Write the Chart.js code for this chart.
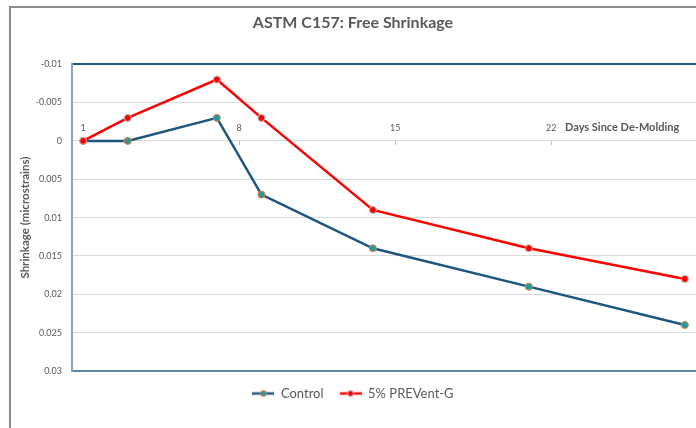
<!DOCTYPE html>
<html>
<head>
<meta charset="utf-8">
<script src="https://cdn.jsdelivr.net/npm/chart.js@4.4.1/dist/chart.umd.min.js"></script>
<style>
  html, body { margin: 0; padding: 0; background: #fff; }
  #wrap { width: 696px; height: 428px; }
</style>
</head>
<body>
<div id="wrap"><canvas id="chart"></canvas></div>
<script>
const days = [1, 3, 7, 9, 14, 21, 28];
const control = [0, 0, -0.003, 0.007, 0.014, 0.019, 0.024];
const prevent = [0, -0.003, -0.008, -0.003, 0.009, 0.014, 0.018];
const dayTicks = [1, 8, 15, 22];
const seriesNames = ["Control", "5% PREVent-G"];

const textGray = "#595959";
const font = "Lato, 'Open Sans', sans-serif";

function legendIcon(lineColor, fill, border) {
  const c = document.createElement("canvas");
  c.width = 22;
  c.height = 10;
  const g = c.getContext("2d");
  g.strokeStyle = lineColor;
  g.lineWidth = 2.5;
  g.beginPath();
  g.moveTo(0, 5);
  g.lineTo(22, 5);
  g.stroke();
  g.beginPath();
  g.arc(11, 5, 3, 0, Math.PI * 2);
  g.fillStyle = fill;
  g.fill();
  g.lineWidth = 1;
  g.strokeStyle = border;
  g.stroke();
  return c;
}

// frame round the chart (Excel chart border)
const framePlugin = {
  id: "frame",
  beforeDraw(chart) {
    const ctx = chart.ctx;
    ctx.save();
    ctx.fillStyle = "#fff";
    ctx.fillRect(0, 0, chart.width, chart.height);
    ctx.strokeStyle = "#8c8c8c";
    ctx.lineWidth = 2;
    ctx.beginPath();
    ctx.moveTo(10, chart.height);
    ctx.lineTo(10, 7);
    ctx.lineTo(chart.width, 7);
    ctx.stroke();
    ctx.restore();
  },
};

// x axis title sits next to the last tick label
const xTitlePlugin = {
  id: "xTitle",
  afterDraw(chart) {
    const ctx = chart.ctx;
    const y = chart.scales.y.getPixelForValue(0) - 13;
    ctx.save();
    ctx.font = "bold 11px " + font;
    ctx.fillStyle = textGray;
    ctx.textBaseline = "middle";
    ctx.fillText("Days Since De-Molding", 565, y);
    ctx.restore();
  },
};

const ctx = document.getElementById("chart").getContext("2d");
new Chart(ctx, {
  type: "line",
  data: {
    datasets: [
      {
        label: seriesNames[0],
        data: days.map((d, i) => ({ x: d, y: control[i] })),
        borderColor: "#1b5681",
        borderWidth: 2.5,
        pointBackgroundColor: "#1f9aa3",
        pointBorderColor: "#ed7d31",
        pointBorderWidth: 1,
        pointRadius: 3.5,
        tension: 0,
        order: 1,
      },
      {
        label: seriesNames[1],
        data: days.map((d, i) => ({ x: d, y: prevent[i] })),
        borderColor: "#ff0000",
        borderWidth: 2.5,
        pointBackgroundColor: "#ff0000",
        pointBorderColor: "#bfbfbf",
        pointBorderWidth: 1,
        pointRadius: 3.5,
        tension: 0,
        order: 0,
      },
    ],
  },
  options: {
    responsive: true,
    maintainAspectRatio: false,
    animation: false,
    layout: { autoPadding: false, padding: { left: 10, top: 6, right: 0, bottom: 18 } },
    scales: {
      x: {
        type: "linear",
        position: { y: 0 },
        min: 0.5,
        max: 28.5,
        afterBuildTicks(scale) {
          scale.ticks = dayTicks.map((v) => ({ value: v }));
        },
        grid: {
          drawOnChartArea: false,
          drawTicks: true,
          tickLength: 4,
          color: "#bfbfbf",
        },
        border: { color: "#d9d9d9", width: 1 },
        ticks: {
          padding: -22,
          maxRotation: 0,
          color: textGray,
          font: { family: font, size: 9 },
          callback: (v) => String(v),
        },
      },
      y: {
        reverse: true,
        min: -0.01,
        max: 0.03,
        afterFit(scale) {
          scale.width = 62;
        },
        ticks: {
          stepSize: 0.005,
          padding: 10,
          color: textGray,
          font: { family: font, size: 9 },
          callback: (v) => String(+v.toFixed(3)),
        },
        grid: {
          drawTicks: false,
          color: (c) =>
            c.tick.value === -0.01 ? "#1f5a8a" : c.tick.value === 0.03 ? "#5b87ad" : "#d9d9d9",
          lineWidth: (c) => (c.tick.value === -0.01 || c.tick.value === 0.03 ? 2 : 1),
        },
        border: { color: "#7fa6c8", width: 2 },
        title: {
          display: true,
          text: "Shrinkage (microstrains)",
          color: textGray,
          font: { family: font, size: 11.5, weight: "bold" },
          padding: { top: 8, bottom: 0 },
        },
      },
    },
    plugins: {
      title: {
        display: true,
        text: "ASTM C157: Free Shrinkage",
        color: textGray,
        font: { family: font, size: 16, weight: "bold" },
        padding: { top: 7, bottom: 32 },
      },
      legend: {
        position: "bottom",
        labels: {
          usePointStyle: true,
          pointStyleWidth: 22,
          padding: 16,
          color: textGray,
          font: { family: font, size: 13 },
          generateLabels() {
            return [
              { text: seriesNames[0], pointStyle: legendIcon("#1b5681", "#1f9aa3", "#ed7d31"), fontColor: textGray, datasetIndex: 0, lineWidth: 0 },
              { text: seriesNames[1], pointStyle: legendIcon("#ff0000", "#ff0000", "#bfbfbf"), fontColor: textGray, datasetIndex: 1, lineWidth: 0 },
            ];
          },
        },
      },
      tooltip: { enabled: false },
    },
  },
  plugins: [framePlugin, xTitlePlugin],
});
</script>
</body>
</html>
